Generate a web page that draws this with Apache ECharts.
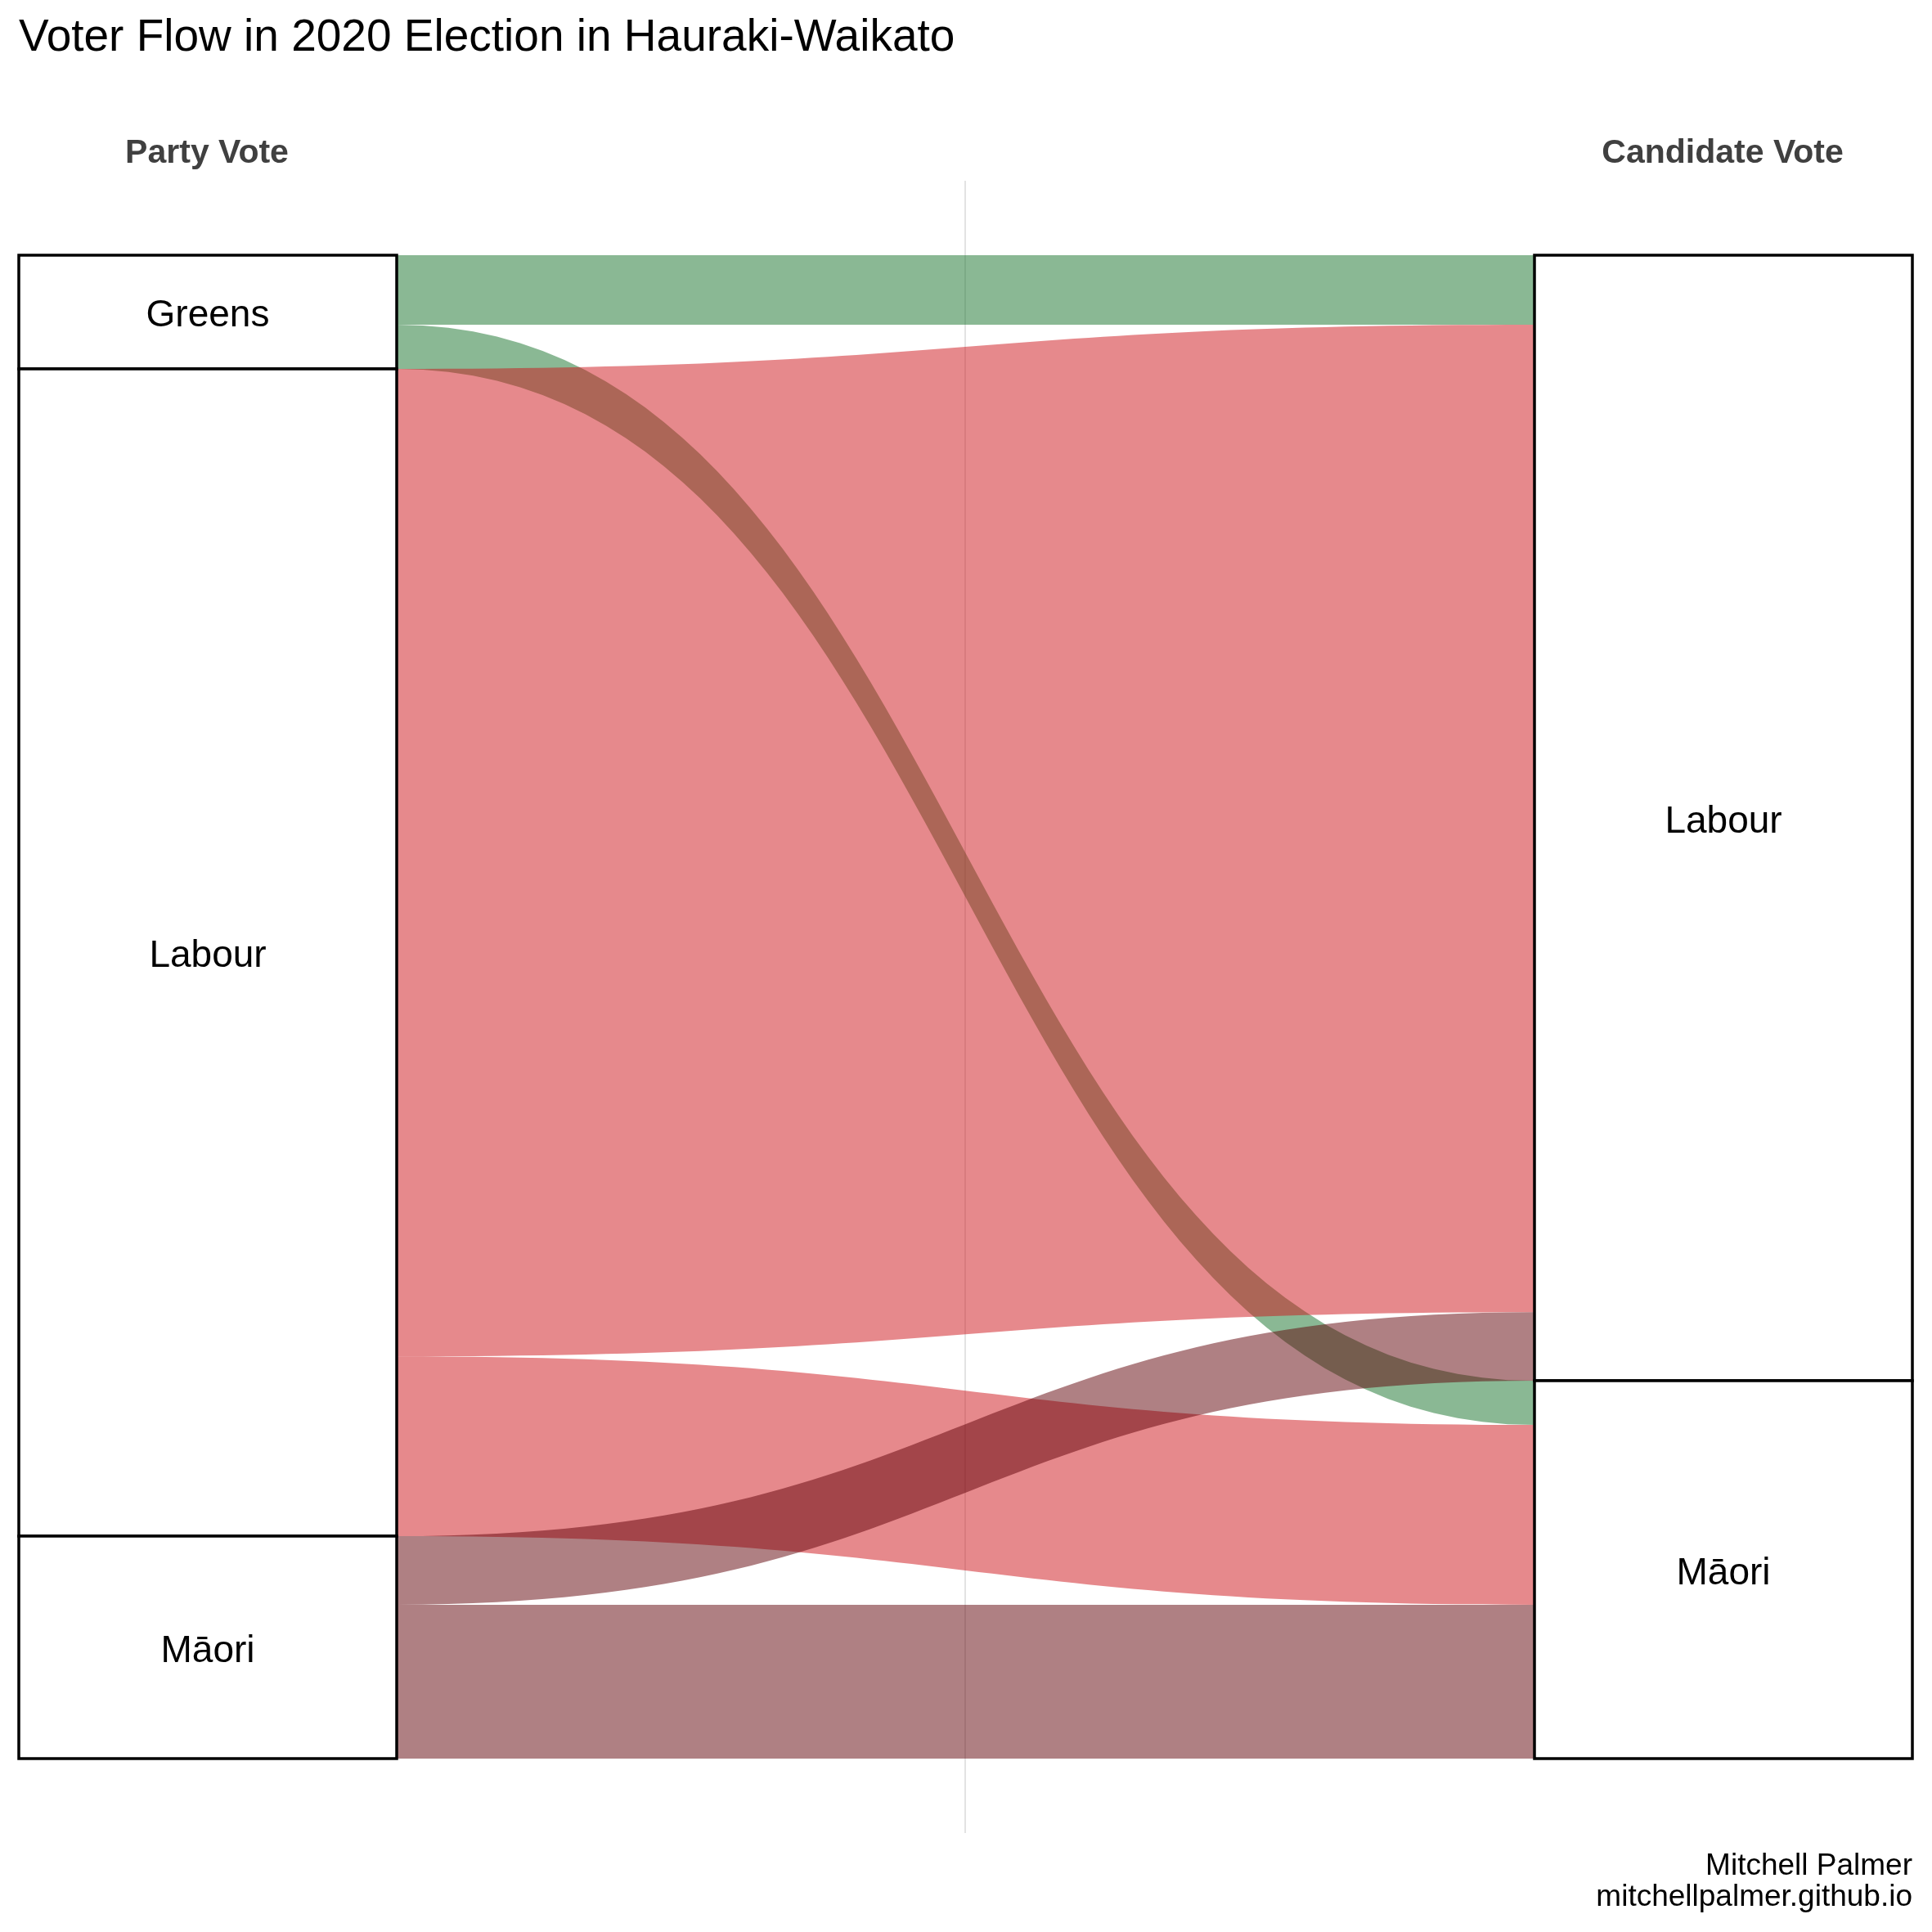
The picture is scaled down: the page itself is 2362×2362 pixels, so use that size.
<!DOCTYPE html>
<html>
<head>
<meta charset="utf-8">
<script src="https://cdn.jsdelivr.net/npm/echarts@6/dist/echarts.min.js"></script>
<style>
html,body{margin:0;padding:0;background:#ffffff;}
#chart{width:2362px;height:2362px;}
</style>
</head>
<body>
<div id="chart"></div>
<script>
// ---- data ----
const stageLabels = ['Party Vote', 'Candidate Vote'];
const partyVoteNodes = ['Greens', 'Labour', 'Māori'];
const candidateVoteNodes = ['Labour', 'Māori'];
const flowFrom = ['Greens', 'Greens', 'Labour', 'Labour', 'Māori', 'Māori'];
const flowTo   = ['Labour', 'Māori',  'Labour', 'Māori',  'Labour', 'Māori'];
const flowVotes = [1110, 705, 15760, 2870, 1095, 2455];
const partyColors = { 'Greens': '#157129', 'Labour': '#cd1319', 'Māori': '#5f0107' };
const captionLines = ['Mitchell Palmer', 'mitchellpalmer.github.io'];

// ---- build sankey structure ----
const FONT = '"Liberation Sans", Arial, Helvetica, sans-serif';
const nodes = [];
partyVoteNodes.forEach(p => nodes.push({ name: 'party:' + p, depth: 0, label: { formatter: p } }));
candidateVoteNodes.forEach(p => nodes.push({ name: 'cand:' + p, depth: 1, label: { formatter: p } }));
const links = flowFrom.map((f, i) => ({
  source: 'party:' + f,
  target: 'cand:' + flowTo[i],
  value: flowVotes[i],
  lineStyle: { color: partyColors[f], opacity: 0.5, curveness: 0.5 }
}));

const captionGraphics = captionLines.map((t, i) => ({
  type: 'text',
  right: 24, top: 2263 + i * 38,
  style: { text: t, font: '37px ' + FONT, fill: '#000000', align: 'right' }
}));

const chart = echarts.init(document.getElementById('chart'), null, { renderer: 'canvas' });
chart.setOption({
  backgroundColor: '#ffffff',
  animation: false,
  textStyle: { fontFamily: FONT },
  title: {
    text: 'Voter Flow in 2020 Election in Hauraki-Waikato',
    left: 23, top: 19, padding: 0,
    textStyle: { fontFamily: FONT, fontSize: 55, fontWeight: 'normal', color: '#000000' }
  },
  grid: { left: 253, right: 256, top: 221, bottom: 121, containLabel: false },
  xAxis: [
    {
      type: 'value', min: 0, max: 2, interval: 1,
      axisLine: { show: false }, axisTick: { show: false }, axisLabel: { show: false },
      splitLine: { show: true, showMinLine: false, showMaxLine: false,
                   lineStyle: { color: '#e3e3e3', width: 2 } }
    },
    {
      type: 'category', data: stageLabels, boundaryGap: false, position: 'top',
      axisLine: { show: false }, axisTick: { show: false }, splitLine: { show: false },
      axisLabel: { fontFamily: FONT, fontSize: 41, fontWeight: 'bold', color: '#404040', margin: 13 }
    }
  ],
  yAxis: { type: 'value', show: false },
  graphic: captionGraphics,
  series: [{
    type: 'sankey',
    left: 23, right: 24, top: 312, bottom: 212,
    nodeWidth: 462,
    nodeGap: 0,
    layoutIterations: 0,
    nodeAlign: 'justify',
    draggable: false,
    emphasis: { disabled: true },
    itemStyle: { color: '#ffffff', borderColor: '#000000', borderWidth: 3.5, opacity: 1 },
    label: { show: true, position: 'inside', offset: [0, 5], color: '#000000', fontFamily: FONT, fontSize: 46 },
    lineStyle: { opacity: 0.5, curveness: 0.5 },
    data: nodes,
    links: links
  }]
});
</script>
</body>
</html>
